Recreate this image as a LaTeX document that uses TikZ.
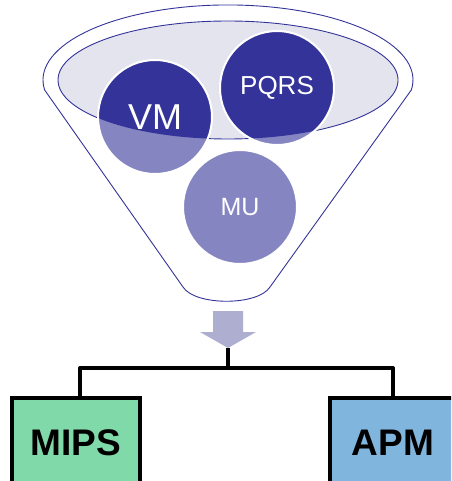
\documentclass[tikz,border=0pt]{standalone}
\usepackage{fontspec}
\setmainfont{Liberation Sans}
\usepackage{xcolor}
\usetikzlibrary{positioning}
\definecolor{darkball}{HTML}{333399}
\definecolor{lightball}{HTML}{8585C2}
\definecolor{funnelfill}{HTML}{E4E4EE}
\definecolor{arrowfill}{HTML}{AEAED0}
\definecolor{mipsgreen}{HTML}{80D9A8}
\definecolor{apmblue}{HTML}{80B5DD}
\tikzset{
	funnel/.style = {draw=darkball, line width=0.9pt},
	ball/.style = {shape=circle, draw=white, line width=2pt, fill=lightball, inner sep=0pt, minimum size=114pt, text=white,
		path picture={\fill[darkball] (funnelmid) ellipse [x radius=170pt, y radius=59pt];}},
	leaf/.style = {shape=rectangle, draw=black, line width=4pt, minimum height=90pt, font=\fontsize{37}{37}\selectfont\bfseries}
}

\begin{document}
\begin{tikzpicture}[x=1pt, y=-1pt,
	branch_style/.style={
		draw=black,
		line width=4pt, line join=round
		}
	]
	\clip (0,0) rectangle (451,481);
	\useasboundingbox (0,0) rectangle (451,481);

	% the funnel
	\coordinate (funnelmid) at (228,80);
	\draw[funnel] (270,287) -- (411.3,90)
		arc[start angle=-7.7, end angle=187.7, x radius=185pt, y radius=75pt]
		-- (183,287) .. controls (195,306) and (258,306) .. (270,287);
	\filldraw[funnel, fill=funnelfill] (funnelmid) ellipse [x radius=170pt, y radius=59pt];

	% the balls
	\node[ball, font=\fontsize{36}{36}\selectfont] (vm) at (155,117) {VM};
	\node[ball, font=\fontsize{26}{26}\selectfont] (pqrs) at (277,88) {PQRS};
	\node[ball, font=\fontsize{25}{25}\selectfont] (mu) at (240,207) {MU};

	% the arrow
	\fill[arrowfill] (213,311) -- (243,311) -- (243,332) -- (256,332) -- (228,348)
		-- (200,332) -- (213,332) -- cycle;
	\coordinate (tip) at (228,348);
	\coordinate (fork) at (228,368);

	% the two leaves
	\node[leaf, fill=mipsgreen, minimum width=128pt, anchor=north] (mips) at (76,396) {MIPS};
	\node[leaf, fill=apmblue, minimum width=126pt, anchor=north] (apm) at (393,396) {APM};

	\draw[branch_style] (tip) -- (fork);
	\draw[branch_style] (fork) -| ([xshift=4pt]mips.north);
	\draw[branch_style] (fork) -| (apm.north);
\end{tikzpicture}
\end{document}
